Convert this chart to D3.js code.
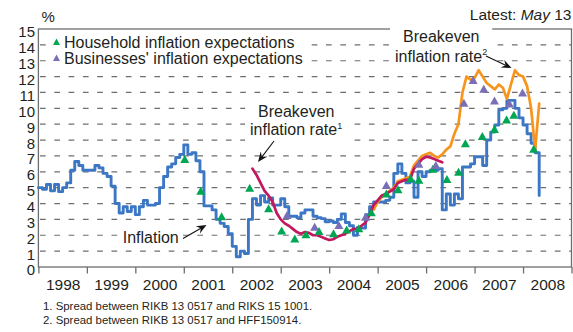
<!DOCTYPE html>
<html>
<head>
<meta charset="utf-8">
<script src="https://cdn.jsdelivr.net/npm/d3@7"></script>
<style>
  html, body { margin: 0; padding: 0; background: #fff; }
  svg { display: block; font-family: "Liberation Sans", Arial, sans-serif; }
</style>
</head>
<body>
<svg id="chart" width="573" height="332"></svg>
<script>
// ---- Data -------------------------------------------------------------
const yearLabels = ["1998","1999","2000","2001","2002","2003","2004","2005","2006","2007","2008"];
const yTicks = d3.range(0, 16);

// Twelve-month inflation, monthly, Jan 1998 – May 2008
const inflationStart = 1998;
const inflation = [
  5.0, 4.9, 5.2, 4.8, 5.2, 4.75, 5.0, 5.3, 6.1, 6.65, 6.4, 6.1,       // 1998
  6.1, 6.1, 6.4, 6.25, 5.9, 5.7, 5.1, 4.0, 3.4, 3.8, 3.5, 3.8,         // 1999
  3.3, 3.8, 4.2, 3.9, 3.9, 4.0, 5.0, 5.7, 6.3, 6.5, 6.9, 7.1,          // 2000
  7.7, 7.1, 7.2, 6.7, 6.0, 3.85, 3.85, 3.6, 3.0, 2.75, 2.55, 2.1,      // 2001
  1.3, 0.65, 1.0, 0.85, 3.0, 4.3, 3.9, 4.5, 4.1, 4.35, 3.9, 3.9,       // 2002
  4.3, 3.8, 3.2, 3.2, 3.1, 3.4, 3.6, 3.6, 3.2, 3.1, 3.05, 2.85,        // 2003
  2.9, 2.8, 3.0, 3.35, 2.8, 2.6, 2.0, 2.5, 2.45, 3.3, 3.8, 4.1,        // 2004
  4.1, 4.1, 4.2, 4.4, 5.9, 6.5, 5.9, 5.3, 5.4, 4.4, 6.0, 5.7,          // 2005
  6.0, 6.1, 6.1, 6.2, 3.6, 4.6, 3.9, 4.6, 4.3, 6.3, 6.3, 6.5,          // 2006
  6.95, 6.95, 6.4, 8.0, 8.5, 8.95, 9.9, 10.0, 10.5, 10.5, 10.0, 9.4,   // 2007
  8.95, 8.4, 7.8, 7.2, 4.5                                             // 2008
];

// Breakeven inflation rate (1), monthly, Jun 2002 – May 2006
const breakeven1Start = 2002 + 5 / 12;
const breakeven1 = [
  6.2, 5.8, 5.3, 4.8, 4.5, 4.1, 3.4,
  3.0, 2.75, 2.6, 2.4, 2.2, 2.1, 2.2, 2.15, 2.0, 2.0, 1.9, 1.8,
  1.7, 1.75, 1.9, 2.0, 2.1, 2.25, 2.4, 2.4, 2.6, 2.8, 3.3, 3.9,
  4.2, 4.5, 4.6, 4.75, 4.9, 5.3, 5.4, 5.5, 5.5, 6.2, 6.5, 6.8,
  6.95, 6.9, 6.8, 6.7, 6.6
];

// Breakeven inflation rate (2), monthly, Dec 2004 – May 2008
const breakeven2Start = 2004 + 11 / 12;
const breakeven2 = [
  3.6,
  4.1, 4.4, 4.6, 4.8, 5.0, 5.4, 5.5, 5.6, 5.7, 6.4, 6.7, 7.0,
  7.1, 7.2, 7.0, 6.9, 7.1, 7.4, 7.6, 8.4, 9.0, 11.0, 12.0, 11.8,
  11.9, 12.4, 12.0, 11.6, 11.4, 11.2, 11.5, 11.3, 10.6, 11.5, 12.4, 12.1,
  12.0, 11.4, 10.0, 7.4, 10.3
];

// Survey results (survey date as decimal year)
const householdDates  = [2001.02, 2001.35, 2001.78, 2002.36, 2002.75, 2003.02, 2003.29, 2003.52, 2003.79,
                         2004.09, 2004.36, 2004.61, 2004.87, 2005.18, 2005.42, 2005.68, 2005.85, 2006.14,
                         2006.43, 2006.67, 2006.81, 2007.16, 2007.41, 2007.66, 2007.81, 2008.22];
const householdValues = [6.8, 4.8, 3.2, 5.0, 3.7, 2.3, 1.8, 2.06, 2.27,
                         2.12, 2.37, 2.44, 3.45, 4.64, 4.9, 5.6, 5.5, 6.2,
                         5.55, 6.0, 7.8, 8.25, 8.7, 9.3, 9.6, 7.45];
const businessDates  = [2003.13, 2003.70, 2004.20, 2004.75, 2005.18, 2005.85, 2006.20,
                        2006.78, 2006.97, 2007.19, 2007.41, 2007.72, 2007.99];
const businessValues = [3.28, 2.54, 2.65, 3.17, 5.17, 6.5, 6.43,
                        10.35, 11.78, 11.23, 10.5, 10.3, 11.0];

// ---- Styles -----------------------------------------------------------
const C = {
  inflation: "#3b77c4",
  breakeven1: "#c2185f",
  breakeven2: "#f7941d",
  household: "#00a651",
  business: "#7a6fb6",
  frame: "#6d6e71",
  text: "#231f20"
};

// ---- Scales -----------------------------------------------------------
const X0 = 38.4, X1 = 571.5, Y0 = 267, Y1 = 29;
const x = d3.scaleLinear().domain([1998, 2009]).range([X0, X1]);
const y = d3.scaleLinear().domain([0, 15]).range([Y0, Y1]);

const svg = d3.select("#chart");

// ---- Grid -------------------------------------------------------------
svg.append("g")
  .selectAll("line")
  .data(yTicks.filter(v => v > 0 && v < 15))
  .join("line")
  .attr("x1", X0 + 1.6).attr("x2", X1)
  .attr("y1", d => y(d)).attr("y2", d => y(d))
  .attr("stroke", C.frame)
  .attr("stroke-width", 1.2)
  .attr("stroke-dasharray", "5.7 8.6");

// ---- Axes -------------------------------------------------------------
const yAxis = svg.append("g")
  .attr("transform", `translate(${X0},0)`)
  .call(d3.axisLeft(y).tickValues(yTicks).tickSize(0).tickPadding(3.4));
yAxis.select(".domain").remove();
yAxis.selectAll("text")
  .attr("dy", "0.53em")
  .attr("fill", C.text)
  .style("font-size", "15px")
  .style("font-family", "Liberation Sans, Arial, sans-serif");

const xTicks = svg.append("g")
  .attr("transform", `translate(0,${Y0})`)
  .call(d3.axisBottom(x).tickValues(d3.range(1998, 2010)).tickSize(6.5).tickFormat(""));
xTicks.select(".domain").remove();
xTicks.selectAll("line").attr("stroke", C.frame).attr("stroke-width", 1.3);

const xLabels = svg.append("g")
  .attr("transform", `translate(0,${Y0})`)
  .call(d3.axisBottom(x)
    .tickValues(yearLabels.map(d => +d + 0.5))
    .tickSize(0).tickPadding(12.4)
    .tickFormat((d, i) => yearLabels[i]));
xLabels.select(".domain").remove();
xLabels.selectAll("text")
  .attr("fill", C.text)
  .style("font-size", "15.5px")
  .style("font-family", "Liberation Sans, Arial, sans-serif");

// Frame
svg.append("rect")
  .attr("x", X0).attr("y", Y1)
  .attr("width", X1 - X0).attr("height", Y0 - Y1)
  .attr("fill", "none")
  .attr("stroke", C.frame)
  .attr("stroke-width", 1.3);

// ---- Text labels with white backing ----------------------------------
const labelLayer = svg.append("g");
const bgLayer = labelLayer.append("g");
const textLayer = labelLayer.append("g");

function addLabel(lines, pad) {
  const g = textLayer.append("g");
  lines.forEach(l => {
    const t = g.append("text")
      .attr("x", l.x).attr("y", l.y)
      .attr("fill", C.text)
      .style("font-size", "16px");
    t.append("tspan").text(l.text);
    if (l.sup) {
      t.append("tspan").attr("dy", -6.5).style("font-size", "9px").text(l.sup);
    }
  });
  const b = g.node().getBBox();
  bgLayer.append("rect")
    .attr("x", b.x - pad).attr("y", b.y - pad)
    .attr("width", b.width + 2 * pad).attr("height", b.height + 2 * pad)
    .attr("fill", "#fff");
}

addLabel([
  { text: "Breakeven", x: 258, y: 116.5 },
  { text: "inflation rate", sup: "1", x: 250, y: 135 }
], 5);
addLabel([
  { text: "Breakeven", x: 403, y: 41.5 },
  { text: "inflation rate", sup: "2", x: 395, y: 61.5 }
], 5);
addLabel([{ text: "Inflation", x: 122.7, y: 243 }], 4);

// ---- Series -----------------------------------------------------------
const toPoints = (start, vals) => vals.map((v, i) => [start + i / 12, v]);

const stepLine = d3.line().x(d => x(d[0])).y(d => y(d[1])).curve(d3.curveStepAfter);
const plainLine = d3.line().x(d => x(d[0])).y(d => y(d[1]));

const series = svg.append("g").attr("fill", "none")
  .attr("stroke-linejoin", "round").attr("stroke-linecap", "round");

series.append("path")
  .attr("d", stepLine(toPoints(inflationStart, inflation)))
  .attr("stroke", C.inflation).attr("stroke-width", 2.9);

series.append("path")
  .attr("d", plainLine(toPoints(breakeven2Start, breakeven2)))
  .attr("stroke", C.breakeven2).attr("stroke-width", 2.7);

series.append("path")
  .attr("d", plainLine(toPoints(breakeven1Start, breakeven1)))
  .attr("stroke", C.breakeven1).attr("stroke-width", 2.7);

// ---- Survey markers ---------------------------------------------------
const tri = (w, h) => `M0,${-h / 2}L${w / 2},${h / 2}L${-w / 2},${h / 2}Z`;

svg.append("g").selectAll("path")
  .data(d3.zip(householdDates, householdValues))
  .join("path")
  .attr("d", tri(9, 8))
  .attr("transform", d => `translate(${x(d[0])},${y(d[1])})`)
  .attr("fill", C.household);

svg.append("g").selectAll("path")
  .data(d3.zip(businessDates, businessValues))
  .join("path")
  .attr("d", tri(9, 8))
  .attr("transform", d => `translate(${x(d[0])},${y(d[1])})`)
  .attr("fill", C.business);

// ---- Arrows -----------------------------------------------------------
function arrow(x1, y1, x2, y2) {
  const a = Math.atan2(y2 - y1, x2 - x1);
  const len = 10, half = 4.2, notch = 6.5;
  const ux = Math.cos(a), uy = Math.sin(a);
  const px = -uy, py = ux;
  const bx = x2 - ux * len, by = y2 - uy * len;
  const nx = x2 - ux * notch, ny = y2 - uy * notch;
  svg.append("line")
    .attr("x1", x1).attr("y1", y1).attr("x2", nx).attr("y2", ny)
    .attr("stroke", "#111").attr("stroke-width", 1.1);
  svg.append("path")
    .attr("d", `M${x2},${y2}L${bx + px * half},${by + py * half}L${nx},${ny}L${bx - px * half},${by - py * half}Z`)
    .attr("fill", "#111");
}
arrow(274, 141, 258, 162);
arrow(486, 56, 511.5, 68);
arrow(183, 238.5, 206.5, 225);

// ---- Legend -----------------------------------------------------------
const legend = svg.append("g");
legend.append("rect")
  .attr("x", 47).attr("y", 33).attr("width", 258).attr("height", 35)
  .attr("fill", "#fff");
const legendItems = [
  { label: "Household inflation expectations", color: C.household, y: 47.5 },
  { label: "Businesses' inflation expectations", color: C.business, y: 63.5 }
];
legendItems.forEach(it => {
  legend.append("path")
    .attr("d", tri(7, 6.5))
    .attr("transform", `translate(56.5,${it.y - 5.8})`)
    .attr("fill", it.color);
  legend.append("text")
    .attr("x", 64).attr("y", it.y)
    .attr("fill", C.text)
    .style("font-size", "16px")
    .text(it.label);
});

// ---- Titles and notes -------------------------------------------------
svg.append("text")
  .attr("x", 41.5).attr("y", 21.5)
  .attr("fill", C.text).style("font-size", "15px")
  .text("%");

const latest = svg.append("text")
  .attr("x", 571.5).attr("y", 20)
  .attr("text-anchor", "end")
  .attr("fill", C.text).style("font-size", "15.5px");
latest.append("tspan").text("Latest: ");
latest.append("tspan").style("font-style", "italic").text("May");
latest.append("tspan").text(" 13");

const notes = [
  "1. Spread between RIKB 13 0517 and RIKS 15 1001.",
  "2. Spread between RIKB 13 0517 and HFF150914."
];
svg.append("g").selectAll("text")
  .data(notes)
  .join("text")
  .attr("x", 43).attr("y", (d, i) => 309.5 + i * 14.8)
  .attr("fill", C.text)
  .style("font-size", "11.4px")
  .text(d => d);
</script>
</body>
</html>
